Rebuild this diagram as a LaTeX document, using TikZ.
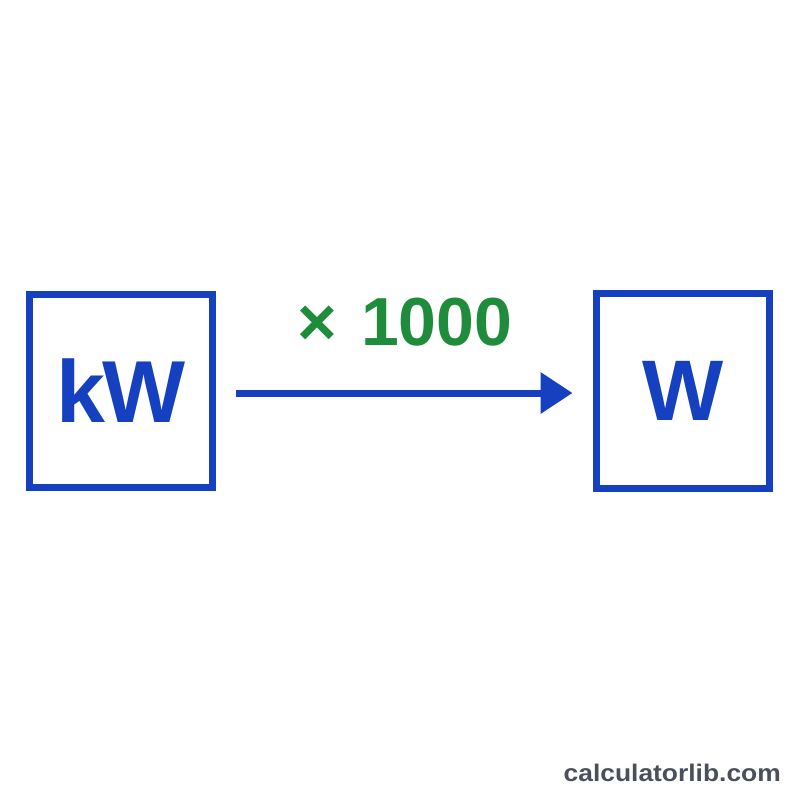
\documentclass[tikz,border=0pt]{standalone}
\usepackage{fontspec}
\setmainfont{Liberation Sans}
\usetikzlibrary{arrows.meta}
\definecolor{cblue}{HTML}{1540C0}
\definecolor{cgreen}{HTML}{1E8C3A}
\definecolor{cgray}{HTML}{4A4F5C}
\tikzset{
  unitbox/.style={draw=cblue, line width=7pt, rectangle, inner sep=0pt, text=cblue, font=\fontsize{90}{90}\selectfont\bfseries},
  conv/.style={draw=cblue, line width=7pt, -{Triangle[length=32pt,width=40pt]}},
}
\begin{document}
\begin{tikzpicture}[x=1pt,y=-1pt]
\useasboundingbox (0,0) rectangle (800,800);
\fill[white] (0,0) rectangle (800,800);
\node[unitbox, minimum width=183pt, minimum height=193pt] (a) at (121,391) {\fontsize{88}{88}\selectfont k\kern-3pt W};
\node[unitbox, minimum width=173pt, minimum height=195pt] (b) at (683,391) {\fontsize{86}{86}\selectfont W};
\draw[conv] ([xshift=20pt,yshift=-2pt]a.east) -- ([xshift=-20.5pt,yshift=-2pt]b.west);
\node[text=cgreen, font=\fontsize{68}{68}\selectfont\bfseries, inner sep=0pt] (lbl) at (405,322.5) {× \kern5pt1000};
\node[text=cgray, font=\fontsize{24}{24}\selectfont\bfseries, inner sep=0pt, anchor=base east, xscale=1.1, transform shape] (wm) at (781,781) {calculatorlib.com};
\end{tikzpicture}
\end{document}
